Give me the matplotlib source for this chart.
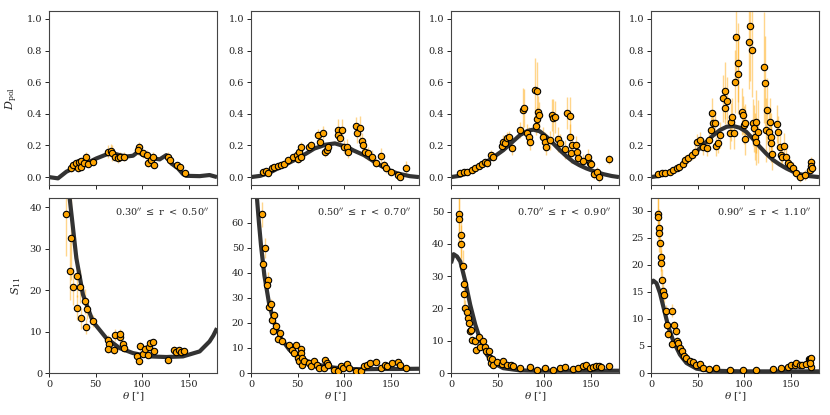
import matplotlib
matplotlib.use("Agg")
import matplotlib.pyplot as plt
import numpy as np

plt.rcParams['font.family'] = ['DejaVu Serif']
plt.rcParams['mathtext.fontset'] = 'dejavuserif'

# ---------------- data: top row (D_pol) ----------------
dpol_th_1 = [23.9, 25.7, 28.6, 31.8, 34.6, 31.0, 34.0, 39.3, 37.1, 41.8, 47.0, 63.2, 66.0, 67.9, 70.4, 74.0, 76.4, 80.3,
             96.4, 95.4, 100.7, 105.3, 106.0, 109.6, 112.1, 111.4, 127.5, 130.0, 137.1, 140.0, 145.3]
dpol_v_1 = [0.055, 0.076, 0.086, 0.093, 0.101, 0.055, 0.065, 0.129, 0.086, 0.082, 0.097, 0.160, 0.167, 0.154, 0.129, 0.118,
            0.129, 0.129, 0.192, 0.171, 0.150, 0.139, 0.091, 0.108, 0.076, 0.129, 0.129, 0.108, 0.076, 0.065, 0.027]
dpol_e_1 = [0.02, 0.02, 0.02, 0.02, 0.02, 0.02, 0.02, 0.03, 0.02, 0.02, 0.02, 0.04, 0.04, 0.05, 0.03, 0.03,
            0.03, 0.03, 0.03, 0.03, 0.03, 0.03, 0.03, 0.03, 0.02, 0.03, 0.03, 0.03, 0.02, 0.02, 0.02]

dpol_th_2 = [12.5, 16.0, 17.8, 23.0, 25.0, 28.5, 32.0, 35.6, 40.0, 44.5, 49.0, 50.0, 51.7, 53.5, 54.0, 62.4, 64.0, 72.0,
             74.0, 77.0, 79.0, 81.0, 83.0, 92.7, 93.4, 97.3, 95.5, 99.8, 103.0, 104.0, 112.0, 114.0, 117.0, 119.0,
             120.0, 122.0, 125.0, 130.0, 133.6, 139.0, 143.0, 145.0, 150.0, 157.0, 160.0, 166.0]
dpol_v_2 = [0.034, 0.040, 0.027, 0.055, 0.065, 0.072, 0.076, 0.080, 0.108, 0.124, 0.139, 0.112, 0.160, 0.192, 0.129,
            0.192, 0.200, 0.266, 0.224, 0.280, 0.160, 0.171, 0.192, 0.300, 0.266, 0.300, 0.245, 0.192, 0.192, 0.160,
            0.323, 0.276, 0.308, 0.230, 0.200, 0.160, 0.150, 0.129, 0.091, 0.135, 0.076, 0.055, 0.034, 0.013,
            0.002, 0.059]
dpol_e_2 = [0.01, 0.01, 0.01, 0.015, 0.015, 0.015, 0.015, 0.015, 0.02, 0.02, 0.02, 0.02, 0.03, 0.03, 0.02,
            0.03, 0.03, 0.04, 0.04, 0.04, 0.03, 0.03, 0.03, 0.07, 0.05, 0.07, 0.05, 0.04, 0.05, 0.04,
            0.06, 0.06, 0.08, 0.05, 0.05, 0.04, 0.04, 0.04, 0.03, 0.05, 0.03, 0.03, 0.02, 0.02,
            0.02, 0.04]

dpol_th_3 = [10.0, 13.5, 17.0, 22.4, 26.0, 29.5, 33.0, 36.6, 38.4, 42.7, 44.8, 54.4, 56.2, 58.0, 60.5, 62.6, 65.0, 74.0,
             76.8, 78.3, 81.0, 84.0, 84.7, 90.0, 92.5, 91.0, 92.5, 93.5, 94.0, 99.0, 100.7, 101.7, 106.0, 107.8,
             109.5, 111.0, 115.0, 116.7, 122.0, 124.0, 127.0, 127.0, 129.0, 130.0, 134.0, 134.5, 136.0, 141.6,
             147.0, 148.7, 150.5, 153.0, 156.0, 159.0, 169.0]
dpol_v_3 = [0.023, 0.030, 0.034, 0.044, 0.055, 0.072, 0.082, 0.093, 0.086, 0.139, 0.129, 0.198, 0.224, 0.217, 0.245,
            0.251, 0.181, 0.300, 0.424, 0.435, 0.276, 0.255, 0.224, 0.551, 0.546, 0.323, 0.365, 0.413, 0.392, 0.255,
            0.224, 0.192, 0.234, 0.392, 0.371, 0.378, 0.238, 0.213, 0.175, 0.407, 0.386, 0.255, 0.150, 0.200,
            0.200, 0.160, 0.122, 0.103, 0.129, 0.086, 0.082, 0.019, 0.034, 0.002, 0.112]
dpol_e_3 = [0.01, 0.01, 0.01, 0.015, 0.015, 0.015, 0.02, 0.02, 0.02, 0.03, 0.03, 0.03, 0.04, 0.04, 0.04,
            0.04, 0.04, 0.05, 0.14, 0.12, 0.06, 0.06, 0.05, 0.20, 0.18, 0.06, 0.08, 0.10, 0.08, 0.06,
            0.06, 0.05, 0.06, 0.10, 0.12, 0.10, 0.08, 0.06, 0.06, 0.10, 0.12, 0.08, 0.06, 0.06,
            0.06, 0.06, 0.05, 0.04, 0.05, 0.04, 0.04, 0.03, 0.03, 0.03, 0.03]

dpol_th_4 = [7.8, 11.4, 15.0, 20.3, 23.9, 28.0, 30.3, 33.9, 36.4, 40.0, 43.5, 47.0, 49.5, 52.4, 56.0, 60.0, 62.4, 64.0,
             65.0, 66.6, 68.4, 69.5, 72.0, 73.8, 77.3, 79.0, 79.8, 81.0, 84.5, 86.0, 87.3, 88.7, 90.5, 91.6, 92.7,
             93.4, 98.0, 98.7, 99.4, 100.5, 101.0, 105.0, 106.0, 108.3, 109.4, 110.0, 111.2, 113.0, 114.8, 113.0,
             121.0, 122.6, 123.7, 124.7, 126.0, 127.0, 128.3, 129.0, 130.0, 135.4, 136.0, 138.6, 142.2, 139.7,
             140.8, 145.0, 146.8, 148.6, 152.0, 155.7, 160.0, 164.7, 170.0, 171.0, 171.8, 172.8]
dpol_v_4 = [0.019, 0.023, 0.027, 0.034, 0.044, 0.055, 0.065, 0.082, 0.108, 0.118, 0.139, 0.160, 0.224, 0.234, 0.192,
            0.181, 0.234, 0.297, 0.403, 0.340, 0.340, 0.196, 0.213, 0.266, 0.498, 0.435, 0.546, 0.483, 0.276, 0.350,
            0.378, 0.276, 0.603, 0.884, 0.652, 0.724, 0.413, 0.392, 0.329, 0.238, 0.340, 0.857, 0.958, 0.804,
            0.344, 0.308, 0.255, 0.350, 0.287, 0.224, 0.694, 0.593, 0.297, 0.424, 0.287, 0.350, 0.255, 0.213,
            0.146, 0.335, 0.287, 0.188, 0.198, 0.139, 0.129, 0.129, 0.086, 0.076, 0.055, 0.023, 0.002, 0.013,
            0.044, 0.097, 0.070, 0.055]
dpol_e_4 = [0.01, 0.01, 0.01, 0.01, 0.015, 0.015, 0.02, 0.02, 0.03, 0.03, 0.03, 0.04, 0.05, 0.05, 0.05,
            0.05, 0.06, 0.08, 0.10, 0.08, 0.08, 0.06, 0.06, 0.08, 0.15, 0.10, 0.18, 0.15, 0.10, 0.12,
            0.12, 0.10, 0.20, 0.30, 0.25, 0.25, 0.15, 0.12, 0.12, 0.10, 0.12, 0.30, 0.35, 0.30,
            0.15, 0.15, 0.15, 0.20, 0.20, 0.15, 0.35, 0.30, 0.20, 0.20, 0.15, 0.15, 0.15, 0.12,
            0.10, 0.12, 0.10, 0.08, 0.08, 0.06, 0.06, 0.06, 0.05, 0.04, 0.04, 0.03, 0.03, 0.03,
            0.03, 0.03, 0.03, 0.03]

# model curves, top row
mdpol_th_1 = [0, 9.6, 18.6, 29.3, 40, 50.8, 61.5, 68.6, 75.7, 82.9, 90, 95.4, 100.7, 111.4, 118.6, 125.7, 131,
              138.2, 143.6, 147.1, 161.4, 172, 180]
mdpol_v_1 = [0.0, -0.008, 0.034, 0.065, 0.087, 0.118, 0.143, 0.150, 0.139, 0.130, 0.135, 0.160, 0.139, 0.118, 0.112,
             0.139, 0.087, 0.055, 0.019, 0.008, 0.006, 0.013, 0.0]
mdpol_th_2 = [0, 10, 20, 32, 40, 50, 60, 67.7, 80, 90, 103, 110, 121, 130, 139, 150, 157, 170, 180]
mdpol_v_2 = [0.0, 0.008, 0.028, 0.065, 0.088, 0.118, 0.152, 0.180, 0.205, 0.213, 0.190, 0.168, 0.139, 0.105,
             0.072, 0.038, 0.023, 0.006, 0.0]
mdpol_th_3 = [0, 10, 20.6, 30, 38.4, 47, 56, 65, 74, 82, 88, 95, 102.4, 110, 116.7, 124, 131, 138, 145, 154, 163,
              172, 180]
mdpol_v_3 = [0.0, 0.009, 0.034, 0.065, 0.097, 0.132, 0.170, 0.218, 0.266, 0.292, 0.300, 0.290, 0.255, 0.210, 0.170,
             0.130, 0.097, 0.074, 0.055, 0.035, 0.019, 0.007, 0.0]
mdpol_th_4 = [0, 8, 16.8, 24, 31, 38, 45, 52, 59.5, 66.5, 73.8, 81, 88, 95, 102, 109, 116.5, 123.5, 130.8, 138,
              145, 152, 159, 170, 180]
mdpol_v_4 = [0.0, 0.007, 0.023, 0.042, 0.065, 0.098, 0.139, 0.180, 0.224, 0.263, 0.297, 0.318, 0.323, 0.312, 0.287,
             0.243, 0.192, 0.148, 0.108, 0.079, 0.055, 0.035, 0.019, 0.006, 0.0]

# ---------------- data: bottom row (S11) ----------------
s11_th_1 = [18.6, 23.2, 22.8, 25.7, 30.3, 32.8, 30.3, 33.9, 38.2, 40.7, 39.3, 47.1, 63.2, 64.3, 63.5, 69.6, 70.4, 75.7,
            76.4, 79.3, 80.0, 94.2, 96.4, 97.1, 100.7, 103.2, 106.0, 106.7, 108.5, 111.4, 112.5, 127.5, 133.5,
            136.4, 138.9, 141.7, 144.6]
s11_v_1 = [38.3, 32.5, 24.7, 20.8, 23.4, 20.8, 15.7, 13.2, 17.3, 15.5, 11.2, 12.6, 7.9, 7.0, 5.9, 5.6, 9.1, 8.6,
           9.4, 7.0, 6.1, 4.0, 3.0, 6.4, 4.7, 5.9, 4.3, 6.2, 7.2, 7.5, 5.2, 3.2, 5.6, 5.0, 5.5, 5.1, 5.2]
s11_e_1 = [10.0, 10.0, 7.0, 4.5, 5.0, 4.0, 3.0, 2.5, 3.0, 2.5, 1.8, 1.5, 1.2, 1.2, 1.0, 1.0, 1.5, 1.2,
           1.2, 1.0, 1.0, 0.8, 0.8, 1.0, 0.8, 0.8, 0.8, 0.8, 0.8, 0.8, 0.8, 0.6, 0.8, 0.8, 0.8, 0.8, 0.8]

s11_th_2 = [11.8, 12.8, 15.3, 17.8, 17.1, 18.9, 21.4, 22.0, 25.0, 23.9, 26.7, 28.5, 31.0, 32.8, 40.3, 43.8, 45.6,
            48.0, 50.0, 51.7, 53.5, 54.0, 55.0, 54.5, 57.0, 62.4, 64.0, 67.7, 70.6, 73.0, 77.7, 79.0, 81.0, 83.0,
            89.0, 92.7, 96.0, 98.7, 103.0, 105.0, 112.0, 117.6, 121.0, 124.7, 128.0, 133.6, 139.0, 144.0, 146.0,
            151.5, 157.0, 159.7, 165.7]
s11_v_2 = [63.4, 43.4, 49.8, 37.2, 35.2, 26.5, 27.5, 21.2, 23.0, 16.6, 18.8, 13.7, 15.9, 12.9, 11.0, 9.3, 8.0,
           11.3, 6.0, 4.6, 9.7, 8.0, 6.0, 3.3, 4.9, 4.0, 2.7, 4.6, 3.1, 2.0, 2.0, 5.2, 4.0, 3.1,
           1.3, 0.7, 2.7, 2.0, 3.6, 2.0, 0.9, 0.7, 2.7, 3.1, 4.0, 4.4, 2.0, 3.1, 2.7,
           4.0, 4.4, 3.3, 2.0]
s11_e_2 = [5.0, 4.0, 4.0, 3.0, 3.0, 2.0, 2.0, 1.8, 1.8, 1.5, 1.5, 1.2, 1.2, 1.0, 1.0, 0.8, 0.8,
           1.0, 0.6, 0.5, 0.8, 0.6, 0.6, 0.4, 0.5, 0.4, 0.3, 0.4, 0.3, 0.3, 0.3, 0.5, 0.4, 0.3,
           0.3, 0.3, 0.3, 0.3, 0.4, 0.3, 0.3, 0.3, 0.3, 0.3, 0.4, 0.4, 0.3, 0.3, 0.3,
           0.4, 0.4, 0.3, 0.3]

s11_th_3 = [8.9, 8.9, 10.7, 10.7, 12.8, 14.2, 13.5, 15.3, 17.0, 18.1, 18.9, 19.9, 21.3, 23.0, 25.3, 27.0, 29.5,
            31.3, 34.0, 36.6, 37.7, 40.2, 41.3, 42.7, 43.8, 45.5, 49.0, 54.4, 56.2, 60.5, 64.0, 66.2, 74.0,
            84.7, 91.8, 100.7, 109.6, 116.7, 122.0, 131.0, 136.0, 141.6, 145.0, 148.7, 152.0, 155.8, 159.0,
            161.0, 169.0]
s11_v_3 = [49.3, 47.7, 42.6, 39.9, 33.0, 27.6, 24.4, 20.1, 18.9, 17.0, 15.5, 13.1, 13.2, 10.3, 9.8, 7.0, 11.3,
           8.2, 9.8, 7.9, 6.7, 6.9, 4.8, 3.1, 4.3, 2.6, 3.3, 2.8, 3.6, 2.6, 2.6, 2.1, 1.5,
           1.8, 1.0, 1.5, 1.0, 1.5, 1.8, 1.3, 1.5, 2.1, 2.4, 1.5, 1.8, 2.1, 2.1,
           1.8, 2.1]
s11_e_3 = [9.0, 8.0, 7.0, 6.0, 5.0, 4.0, 3.5, 2.5, 2.0, 2.0, 1.8, 1.5, 1.5, 1.2, 1.0, 0.8, 1.2,
           0.8, 1.0, 0.8, 0.7, 0.7, 0.5, 0.4, 0.5, 0.3, 0.4, 0.3, 0.4, 0.3, 0.3, 0.3, 0.2,
           0.3, 0.2, 0.2, 0.2, 0.2, 0.3, 0.2, 0.2, 0.3, 0.3, 0.2, 0.3, 0.3, 0.3,
           0.3, 0.3]

s11_th_4 = [7.8, 7.8, 8.9, 8.9, 9.6, 10.3, 10.7, 12.1, 13.2, 13.9, 16.0, 17.5, 18.5, 22.0, 22.0, 24.6, 26.4, 27.4,
            29.2, 31.0, 32.8, 35.3, 38.0, 41.7, 45.3, 48.0, 52.4, 56.0, 62.4, 70.0, 84.5, 98.7, 113.0, 130.8,
            139.7, 146.8, 150.4, 154.0, 155.7, 159.3, 162.0, 166.4, 169.0, 170.0, 171.8, 171.8, 170.7]
s11_v_4 = [29.4, 28.8, 26.8, 25.9, 24.1, 21.4, 20.3, 17.2, 15.1, 14.5, 11.4, 8.9, 7.2, 11.5, 5.4, 8.9, 7.7, 6.0,
           5.5, 4.6, 4.0, 3.1, 2.8, 2.2, 2.0, 1.5, 1.7, 0.9, 0.8, 0.9, 0.6, 0.5, 0.6, 0.8,
           0.9, 1.2, 1.4, 1.5, 1.8, 1.5, 1.4, 1.7, 2.5, 2.6, 2.8, 1.2, 1.8]
s11_e_4 = [4.0, 4.0, 3.5, 3.5, 3.0, 2.5, 2.5, 2.0, 1.5, 1.5, 1.2, 1.0, 0.8, 1.2, 0.6, 0.8, 0.7, 0.6,
           0.5, 0.4, 0.4, 0.3, 0.3, 0.2, 0.2, 0.2, 0.2, 0.1, 0.1, 0.1, 0.1, 0.1, 0.1, 0.1,
           0.1, 0.2, 0.2, 0.2, 0.2, 0.2, 0.2, 0.2, 0.3, 0.3, 0.3, 0.2, 0.2]

# model curves, bottom row
ms11_th_1 = [21.5, 22.1, 25.7, 29.3, 36.4, 47.0, 61.4, 75.7, 90.0, 107.8, 125.7, 143.5, 161.4, 172.0, 176.0, 180.0]
ms11_v_1 = [48.0, 42.2, 35.0, 27.7, 18.9, 12.4, 8.4, 6.0, 4.8, 4.0, 3.85, 4.0, 5.2, 7.6, 9.0, 10.8]
ms11_th_2 = [5.5, 6.4, 8.5, 10.7, 14.3, 19.6, 25.0, 32.0, 41.0, 50.0, 67.7, 85.5, 103.0, 121.0, 139.0, 157.0, 180.0]
ms11_v_2 = [76.0, 69.7, 60.0, 51.0, 39.0, 27.2, 19.9, 13.9, 9.3, 6.4, 3.6, 2.3, 1.6, 1.5, 1.6, 1.6, 1.7]
ms11_th_3 = [0.0, 2.8, 6.4, 10.0, 15.3, 20.6, 26.0, 31.3, 38.4, 45.5, 56.0, 74.0, 91.8, 109.6, 145.0, 180.0]
ms11_v_3 = [34.0, 36.8, 36.1, 34.5, 28.4, 21.1, 15.0, 10.3, 5.7, 3.1, 1.5, 0.8, 0.7, 0.7, 0.7, 0.7]
ms11_th_4 = [0.0, 2.5, 6.0, 9.6, 13.2, 18.5, 23.9, 31.0, 38.0, 48.8, 63.0, 98.7, 180.0]
ms11_v_4 = [16.6, 17.1, 16.6, 14.8, 12.3, 8.6, 5.9, 3.4, 1.85, 0.8, 0.43, 0.3, 0.3]

bin_labels = [r"0.30$^{\prime\prime}$ $\leq$ r $<$ 0.50$^{\prime\prime}$",
              r"0.50$^{\prime\prime}$ $\leq$ r $<$ 0.70$^{\prime\prime}$",
              r"0.70$^{\prime\prime}$ $\leq$ r $<$ 0.90$^{\prime\prime}$",
              r"0.90$^{\prime\prime}$ $\leq$ r $<$ 1.10$^{\prime\prime}$"]
s11_ylims = [42.2, 69.8, 54.2, 32.4]
s11_ticks = [[0, 10, 20, 30, 40], [0, 10, 20, 30, 40, 50, 60], [0, 10, 20, 30, 40, 50], [0, 5, 10, 15, 20, 25, 30]]

top_data = [(dpol_th_1, dpol_v_1, dpol_e_1, mdpol_th_1, mdpol_v_1),
            (dpol_th_2, dpol_v_2, dpol_e_2, mdpol_th_2, mdpol_v_2),
            (dpol_th_3, dpol_v_3, dpol_e_3, mdpol_th_3, mdpol_v_3),
            (dpol_th_4, dpol_v_4, dpol_e_4, mdpol_th_4, mdpol_v_4)]
bot_data = [(s11_th_1, s11_v_1, s11_e_1, ms11_th_1, ms11_v_1),
            (s11_th_2, s11_v_2, s11_e_2, ms11_th_2, ms11_v_2),
            (s11_th_3, s11_v_3, s11_e_3, ms11_th_3, ms11_v_3),
            (s11_th_4, s11_v_4, s11_e_4, ms11_th_4, ms11_v_4)]

# ---------------- figure ----------------
fig = plt.figure(figsize=(8.3, 4.15), dpi=100)
lefts = [49 / 830, 251 / 830, 451 / 830, 651 / 830]
w = 168 / 830
top_b, top_h = 1 - 185 / 415, 174 / 415
bot_b, bot_h = 1 - 373 / 415, 175 / 415

ORANGE = '#FFA500'
LINE = '#333333'
TXT = '#222222'


def style(ax):
    for s in ax.spines.values():
        s.set_color('#444444')
        s.set_linewidth(0.8)
    ax.tick_params(labelsize=7, colors=TXT, length=3, width=0.7, pad=2)


def draw(ax, th, v, e, mth, mv):
    ax.errorbar(th, v, yerr=e, fmt='none', ecolor=ORANGE, alpha=0.45, elinewidth=1.0, zorder=1)
    ax.plot(mth, mv, color=LINE, lw=3.0, zorder=2, solid_capstyle='butt')
    ax.plot(th, v, 'o', color=ORANGE, mec='black', mew=0.8, ms=4.6, zorder=3)


for i in range(4):
    ax = fig.add_axes([lefts[i], top_b, w, top_h])
    draw(ax, *top_data[i])
    ax.set_xlim(0, 180)
    ax.set_ylim(-0.05, 1.05)
    ax.set_xticks([0, 50, 100, 150])
    ax.set_xticklabels([])
    ax.set_yticks([0.0, 0.2, 0.4, 0.6, 0.8, 1.0])
    ax.set_yticklabels(["0.0", "0.2", "0.4", "0.6", "0.8", "1.0"])
    style(ax)
    if i == 0:
        ax.set_ylabel(r"$D_{\rm pol}$", fontsize=8, color=TXT, labelpad=5)

    axb = fig.add_axes([lefts[i], bot_b, w, bot_h])
    draw(axb, *bot_data[i])
    axb.set_xlim(0, 180)
    axb.set_ylim(0, s11_ylims[i])
    axb.set_xticks([0, 50, 100, 150])
    axb.set_yticks(s11_ticks[i])
    style(axb)
    axb.set_xlabel(r"$\theta$ [$^{\circ}$]", fontsize=7.5, color=TXT, labelpad=1)
    axb.text(0.95, 0.955, bin_labels[i], transform=axb.transAxes, ha='right', va='top',
             fontsize=7, color=TXT)
    if i == 0:
        axb.set_ylabel(r"$S_{11}$", fontsize=8, color=TXT, labelpad=5)

fig.savefig("out.png", dpi=100)
